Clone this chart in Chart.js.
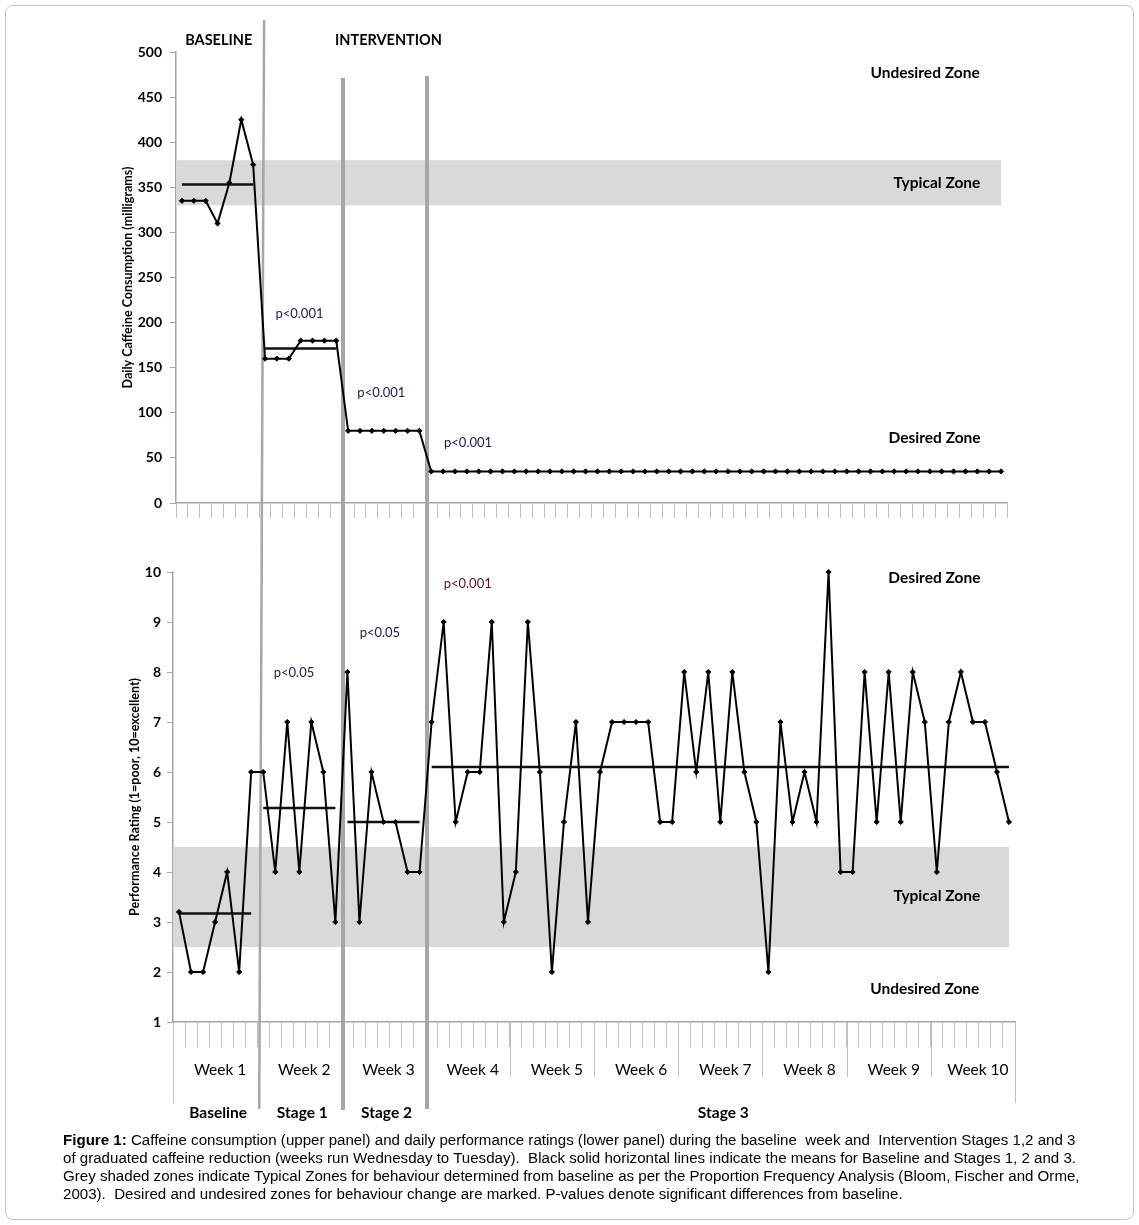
<!DOCTYPE html>
<html>
<head>
<meta charset="utf-8">
<script src="https://cdn.jsdelivr.net/npm/chart.js@4.4.0/dist/chart.umd.min.js"></script>
<style>
  body { margin: 0; background: #fff; }
  #frame { position: relative; width: 1139px; height: 1225px; overflow: hidden; }
  #border { position: absolute; left: 5px; top: 5px; width: 1127px; height: 1213px;
            border: 1.5px solid #c4c4c4; border-radius: 8px; }
  #topChart { position: absolute; left: 0; top: 0; }
  #bottomChart { position: absolute; left: 0; top: 540px; }
  #caption { position: absolute; left: 63px; top: 1131px; width: 1060px;
             font: 15.1px 'Liberation Sans', Arial, sans-serif; line-height: 18px; color: #000; white-space: nowrap; }
</style>
</head>
<body>
<div id="frame">
  <div id="border"></div>
  <canvas id="topChart" width="1139" height="540"></canvas>
  <canvas id="bottomChart" width="1139" height="600"></canvas>
  <div id="caption">
    <b>Figure 1:</b> Caffeine consumption (upper panel) and daily performance ratings (lower panel) during the baseline &nbsp;week and &nbsp;Intervention Stages 1,2 and 3<br>
    of graduated caffeine reduction (weeks run Wednesday to Tuesday). &nbsp;Black solid horizontal lines indicate the means for Baseline and Stages 1, 2 and 3.<br>
    Grey shaded zones indicate Typical Zones for behaviour determined from baseline as per the Proportion Frequency Analysis (Bloom, Fischer and Orme,<br>
    2003). &nbsp;Desired and undesired zones for behaviour change are marked. P-values denote significant differences from baseline.
  </div>
</div>
<script>
// --- data ---
const phaseNames = ['Baseline', 'Stage 1', 'Stage 2', 'Stage 3'];
const phaseLengths = [7, 7, 7, 49];
const weekLabels = ['Week 1', 'Week 2', 'Week 3', 'Week 4', 'Week 5', 'Week 6', 'Week 7', 'Week 8', 'Week 9', 'Week 10'];
const dayLabels = Array.from({ length: 70 }, (_, i) => 'Day ' + (i + 1));

const caffeine = [
  335, 335, 335, 310, 355, 425, 375,
  160, 160, 160, 180, 180, 180, 180,
  80, 80, 80, 80, 80, 80, 80,
  35, 35, 35, 35, 35, 35, 35,
  35, 35, 35, 35, 35, 35, 35,
  35, 35, 35, 35, 35, 35, 35,
  35, 35, 35, 35, 35, 35, 35,
  35, 35, 35, 35, 35, 35, 35,
  35, 35, 35, 35, 35, 35, 35,
  35, 35, 35, 35, 35, 35, 35
];
const caffeineMeans = [353, 171.4, null, null];
const caffeineTypical = [330, 380];

const performance = [
  3.2, 2, 2, 3, 4, 2, 6,
  6, 4, 7, 4, 7, 6, 3,
  8, 3, 6, 5, 5, 4, 4,
  7, 9, 5, 6, 6, 9, 3,
  4, 9, 6, 2, 5, 7, 3,
  6, 7, 7, 7, 7, 5, 5,
  8, 6, 8, 5, 8, 6, 5,
  2, 7, 5, 6, 5, 10, 4,
  4, 8, 5, 8, 5, 8, 7,
  4, 7, 8, 7, 7, 6, 5
];
const performanceMeans = [3.17, 5.28, 5.0, 6.1];
const performanceTypical = [2.5, 4.5];

const FONT = 'Lato, "Open Sans", sans-serif';
const GREY = '#a6a6a6';

// mean line datasets: one short segment per phase
function meanSets(means) {
  const sets = [];
  let start = 0;
  phaseLengths.forEach((len, p) => {
    if (means[p] !== null) {
      const data = dayLabels.map((_, i) => (i >= start && i < start + len) ? means[p] : null);
      sets.push({ data, borderColor: '#111', borderWidth: 2.5, pointRadius: 0, spanGaps: false });
    }
    start += len;
  });
  return sets;
}

function boundaries() {
  const b = [];
  let s = 0;
  phaseLengths.slice(0, 3).forEach(len => { s += len; b.push(s); });
  return b;
}

function between(x, i) {
  return (x.getPixelForValue(i - 1) + x.getPixelForValue(i)) / 2;
}

// grey typical zone + phase divider lines
const zonePlugin = {
  id: 'zones',
  beforeDatasetsDraw(chart, args, opts) {
    const { ctx, chartArea } = chart;
    const x = chart.scales.x, y = chart.scales.y;
    ctx.save();
    ctx.fillStyle = '#d9d9d9';
    const yTop = y.getPixelForValue(opts.band[1]);
    const yBot = y.getPixelForValue(opts.band[0]);
    ctx.fillRect(chartArea.left, yTop, x.getPixelForValue(dayLabels.length - 1) - chartArea.left, yBot - yTop);
    // dividers (slightly slanted like the original)
    ctx.strokeStyle = GREY;
    boundaries().forEach((b, k) => {
      const px = between(x, b);
      ctx.lineWidth = k === 0 ? 2.5 : 4;
      ctx.beginPath();
      ctx.moveTo(px + opts.shiftTop[k], opts.divTop[k]);
      ctx.lineTo(px + opts.shiftBottom[k], opts.divBottom[k]);
      ctx.stroke();
    });
    ctx.restore();
  },
  afterDraw(chart, args, opts) {
    const { ctx } = chart;
    const x = chart.scales.x, y = chart.scales.y;
    ctx.save();
    ctx.textAlign = 'center';
    ctx.textBaseline = 'middle';
    opts.texts.forEach(t => {
      ctx.font = t.font;
      ctx.fillStyle = t.color || '#000';
      ctx.fillText(t.text, x.getPixelForValue(t.at[0]), y.getPixelForValue(t.at[1]));
    });
    ctx.restore();
  }
};

// multi-level category labels under the lower panel
const weekAxisPlugin = {
  id: 'weekAxis',
  afterDraw(chart) {
    const { ctx, chartArea } = chart;
    const x = chart.scales.x;
    const base = chartArea.bottom;
    ctx.save();
    ctx.strokeStyle = '#bfbfbf';
    ctx.lineWidth = 1;
    const edge = (i) => i === 0 ? chartArea.left : (i === dayLabels.length ? chartArea.right : between(x, i));
    // week separators (weeks 4-10)
    for (let w = 4; w < weekLabels.length; w++) {
      const px = Math.round(edge(w * 7)) + 0.5;
      ctx.beginPath(); ctx.moveTo(px, base); ctx.lineTo(px, base + 55); ctx.stroke();
    }
    [0, dayLabels.length].forEach(i => {
      const px = Math.round(edge(i)) + 0.5;
      ctx.beginPath(); ctx.moveTo(px, base); ctx.lineTo(px, base + 81); ctx.stroke();
    });
    ctx.fillStyle = '#000';
    ctx.textAlign = 'center';
    ctx.textBaseline = 'middle';
    ctx.font = '15.5px ' + FONT;
    weekLabels.forEach((lab, w) => {
      const cx = (edge(w * 7) + edge(w * 7 + 7)) / 2 + 5;
      ctx.fillText(lab, cx, base + 48);
    });
    ctx.font = 'bold 15.5px ' + FONT;
    let s = 0;
    phaseNames.forEach((lab, p) => {
      const cx = (edge(s) + edge(s + phaseLengths[p])) / 2 + 3;
      ctx.fillText(lab, cx, base + 91);
      s += phaseLengths[p];
    });
    ctx.restore();
  }
};

function yAxis(min, max, step, title, width, pad) {
  return {
    min, max,
    ticks: { stepSize: step, padding: pad, color: '#000', font: { family: FONT, weight: 'bold', size: 14 } },
    grid: { drawOnChartArea: false, tickLength: 6, color: GREY },
    border: { color: GREY, width: 1.5 },
    title: { display: true, text: title, color: '#000', padding: 4, font: { family: FONT, weight: 'bold', size: 12.5 } },
    afterFit: s => { s.width = width; }
  };
}

function xAxis(height, tick) {
  return {
    type: 'category', offset: true,
    grid: { offset: true, drawOnChartArea: false, tickLength: tick, color: '#bfbfbf', lineWidth: 1 },
    border: { color: GREY, width: 1.5 },
    ticks: { display: false, autoSkip: false },
    afterFit: s => { s.height = height; }
  };
}

const lineStyle = {
  borderColor: '#000', borderWidth: 2, pointStyle: 'rectRot', pointRadius: 2.6,
  pointBackgroundColor: '#000', pointBorderColor: '#000', pointBorderWidth: 1, tension: 0, clip: false
};

const zoneFont = 'bold 15.5px ' + FONT;
const pFont = '13px ' + FONT;

// upper panel
new Chart(document.getElementById('topChart').getContext('2d'), {
  type: 'line',
  data: {
    labels: dayLabels,
    datasets: [{ data: caffeine, ...lineStyle }].concat(meanSets(caffeineMeans))
  },
  options: {
    responsive: false, animation: false,
    layout: { padding: { left: 116, top: 52, right: 132, bottom: 0 } },
    plugins: {
      legend: { display: false }, tooltip: { enabled: false },
      zones: {
        band: caffeineTypical,
        divTop: [20, 78, 76], divBottom: [540, 540, 540],
        shiftTop: [5, 0.8, 1.7], shiftBottom: [2.6, 0.8, 1.7],
        texts: [
          { text: 'BASELINE', at: [3.1, 513], font: 'bold 14.5px ' + FONT },
          { text: 'INTERVENTION', at: [17.4, 513], font: 'bold 14.5px ' + FONT },
          { text: 'Undesired Zone', at: [62.6, 477], font: zoneFont },
          { text: 'Typical Zone', at: [63.6, 355], font: zoneFont },
          { text: 'Desired Zone', at: [63.4, 72], font: zoneFont },
          { text: 'p<0.001', at: [9.9, 210], font: pFont, color: '#1a1a4a' },
          { text: 'p<0.001', at: [16.8, 122], font: pFont, color: '#1a1a4a' },
          { text: 'p<0.001', at: [24.1, 66.5], font: pFont, color: '#1a1a4a' }
        ]
      }
    },
    scales: {
      x: xAxis(37, 15),
      y: yAxis(0, 500, 50, 'Daily Caffeine Consumption (milligrams)', 60, 8)
    }
  },
  plugins: [zonePlugin]
});

// lower panel
new Chart(document.getElementById('bottomChart').getContext('2d'), {
  type: 'line',
  data: {
    labels: dayLabels,
    datasets: [{ data: performance, ...lineStyle }].concat(meanSets(performanceMeans))
  },
  options: {
    responsive: false, animation: false,
    layout: { padding: { left: 123, top: 32, right: 124, bottom: 0 } },
    plugins: {
      legend: { display: false }, tooltip: { enabled: false },
      zones: {
        band: performanceTypical,
        divTop: [0, 0, 0], divBottom: [569, 570, 569],
        shiftTop: [4.6, 1.6, 1.4], shiftBottom: [2, 1.6, 1.4],
        texts: [
          { text: 'Desired Zone', at: [62.8, 9.88], font: zoneFont },
          { text: 'Typical Zone', at: [63.0, 3.52], font: zoneFont },
          { text: 'Undesired Zone', at: [62.0, 1.66], font: zoneFont },
          { text: 'p<0.05', at: [9.56, 7.98], font: pFont, color: '#1a1a4a' },
          { text: 'p<0.05', at: [16.7, 8.78], font: pFont, color: '#1a1a4a' },
          { text: 'p<0.001', at: [24.0, 9.76], font: pFont, color: '#5a1020' }
        ]
      }
    },
    scales: {
      x: xAxis(118, 25),
      y: yAxis(1, 10, 1, 'Performance Rating (1=poor, 10=excellent)', 50, 6)
    }
  },
  plugins: [zonePlugin, weekAxisPlugin]
});
</script>
</body>
</html>
